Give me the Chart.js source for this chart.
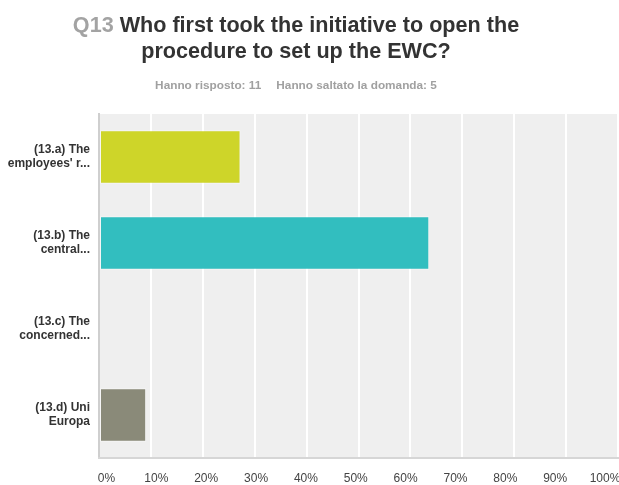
<!DOCTYPE html>
<html>
<head>
<meta charset="utf-8">
<script src="https://cdn.jsdelivr.net/npm/chart.js@4/dist/chart.umd.min.js"></script>
<style>
  body { margin: 0; background: #fff; }
  #wrap { width: 619px; height: 485px; }
</style>
</head>
<body>
<div id="wrap"><canvas id="chartQ13" width="619" height="485"></canvas></div>
<script>
const questionNo = "Q13";
const titleLines = ["Who first took the initiative to open the", "procedure to set up the EWC?"];
const answered = "Hanno risposto: 11";
const skipped = "Hanno saltato la domanda: 5";

const answerLabels = [
  ["(13.a) The", "employees' r..."],
  ["(13.b) The", "central..."],
  ["(13.c) The", "concerned..."],
  ["(13.d) Uni", "Europa"],
];
const answerPercent = [27.27, 63.64, 0, 9.09];
const barColors = ["rgb(206, 213, 41)", "rgb(50, 190, 191)", "rgb(138, 138, 121)"];
const answerColors = [barColors[0], barColors[1], barColors[1], barColors[2]];
const tickValues = [0, 10, 20, 30, 40, 50, 60, 70, 80, 90, 100];

const FONT = "'Liberation Sans', Arial, Helvetica, sans-serif";

// grey plot background behind the bars
const plotBackground = {
  id: "plotBackground",
  beforeDraw(chart) {
    const { ctx, chartArea: a } = chart;
    ctx.save();
    ctx.fillStyle = "#efefef";
    ctx.fillRect(a.left, a.top, a.right - a.left, a.bottom - a.top);
    ctx.restore();
  },
};

// question header: grey number, dark title, grey response counts
const header = {
  id: "header",
  afterDraw(chart) {
    const ctx = chart.ctx;
    const cx = 296;
    ctx.save();
    ctx.textBaseline = "alphabetic";
    ctx.textAlign = "left";
    ctx.font = "bold 21.6px " + FONT;
    const numText = questionNo + " ";
    const w1 = ctx.measureText(numText).width + ctx.measureText(titleLines[0]).width;
    let x = cx - w1 / 2;
    ctx.fillStyle = "#a3a3a3";
    ctx.fillText(numText, x, 32);
    ctx.fillStyle = "#333";
    ctx.fillText(titleLines[0], x + ctx.measureText(numText).width, 32);
    ctx.textAlign = "center";
    ctx.fillText(titleLines[1], cx, 58);

    ctx.font = "bold 11.8px " + FONT;
    ctx.fillStyle = "#a0a0a0";
    const gap = 15;
    const wa = ctx.measureText(answered).width;
    const wb = ctx.measureText(skipped).width;
    const sx = cx - (wa + gap + wb) / 2;
    ctx.textAlign = "left";
    ctx.fillText(answered, sx, 89);
    ctx.fillText(skipped, sx + wa + gap, 89);
    ctx.restore();
  },
};

new Chart(document.getElementById("chartQ13"), {
  type: "bar",
  data: {
    labels: answerLabels,
    datasets: [
      {
        data: answerPercent,
        backgroundColor: answerColors,
        borderColor: "rgba(255,255,255,0.45)",
        borderWidth: 1,
        borderSkipped: false,
        barPercentage: 0.62,
        categoryPercentage: 1,
      },
    ],
  },
  options: {
    indexAxis: "y",
    responsive: false,
    animation: false,
    layout: { padding: { top: 114, right: 1, left: 0, bottom: 0 } },
    plugins: { legend: { display: false }, tooltip: { enabled: false } },
    scales: {
      y: {
        grid: { display: false },
        border: { display: true, color: "#cfcfcf", width: 2 },
        ticks: {
          color: "#333",
          padding: 1,
          font: { family: FONT, size: 12, weight: "bold", lineHeight: 1.17 },
        },
        afterFit(scale) {
          scale.width = 99;
          scale.paddingTop = 0;
          scale.paddingBottom = 0;
        },
      },
      x: {
        position: "bottom",
        weight: 0,
        min: 0,
        max: 100,
        ticks: { display: false, stepSize: 10 },
        grid: {
          drawTicks: false,
          lineWidth: 2,
          color: (c) => (c.tick && c.tick.value === 0 ? "rgba(0,0,0,0)" : "#ffffff"),
        },
        border: { display: true, color: "#d6d6d6", width: 2 },
        afterFit(scale) {
          scale.height = 0;
          scale.paddingLeft = 0;
          scale.paddingRight = 0;
        },
      },
      // percent labels spread slightly wider than the grid, as in the survey export
      x2: {
        type: "linear",
        position: "bottom",
        weight: 1,
        min: -1.5,
        max: 102.6,
        grid: { display: false, drawTicks: false },
        border: { display: false },
        afterBuildTicks(scale) {
          scale.ticks = tickValues.map((v) => ({ value: v }));
        },
        ticks: {
          color: "#444",
          padding: 13,
          maxRotation: 0,
          autoSkip: false,
          font: { family: FONT, size: 12 },
          callback: (v) => v + "%",
        },
        afterFit(scale) {
          scale.height = 27;
          scale.paddingLeft = 0;
          scale.paddingRight = 0;
        },
      },
    },
  },
  plugins: [plotBackground, header],
});
</script>
</body>
</html>
